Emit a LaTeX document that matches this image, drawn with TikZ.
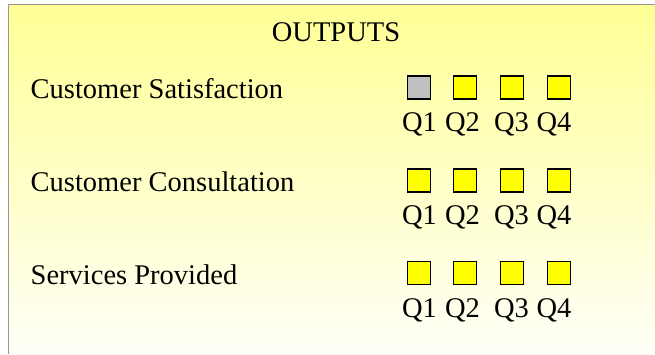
\documentclass[tikz,border=0pt]{standalone}
\usepackage{fontspec}
\setmainfont{Liberation Serif}
\definecolor{frameline}{RGB}{150,150,150}
\definecolor{topyel}{RGB}{255,255,150}
\definecolor{botyel}{RGB}{255,255,248}
\definecolor{boxgray}{RGB}{192,192,192}
\definecolor{boxyel}{RGB}{255,255,0}
\tikzset{
  txt/.style={inner sep=0pt, font=\fontsize{28.5}{30}\selectfont},
  qbox/.style={draw=black, line width=1.1pt, minimum width=23pt, minimum height=23pt, inner sep=0pt},
  ylw/.style={qbox, fill=boxyel},
  gry/.style={qbox, fill=boxgray}
}
\begin{document}
\begin{tikzpicture}[x=1pt,y=-1pt]
\useasboundingbox (0,0) rectangle (655,354);
\fill[white] (0,0) rectangle (655,354);
\shade[top color=topyel, bottom color=botyel] (8.5,4.5) rectangle (655,354);
\draw[frameline, line width=1pt] (8.5,354) -- (8.5,4.5) -- (655,4.5);
\node[txt, anchor=base] (title) at (336,41) {OUTPUTS};
\foreach \r/\cy/\lab in {1/87.5/Customer Satisfaction, 2/180.5/Customer Consultation, 3/273/Services Provided}{
  \node[txt, anchor=base west] (lab\r) at (30.5,\cy+11) {\lab};
  \foreach \q/\sx/\tx in {1/418.7/419.5, 2/465.3/462.5, 3/512/511.5, 4/558.7/554}{
    \node[txt, anchor=base] (q\r\q) at (\tx,\cy+44) {Q\q};
  }
}
\foreach \r/\cy in {1/87.5, 2/180.5, 3/273}{
  \foreach \q/\sx in {1/418.7, 2/465.3, 3/512, 4/558.7}{
    \ifnum\r\q=11
      \node[gry] (b\r\q) at (\sx,\cy) {};
    \else
      \node[ylw] (b\r\q) at (\sx,\cy) {};
    \fi
  }
}
\end{tikzpicture}
\end{document}
